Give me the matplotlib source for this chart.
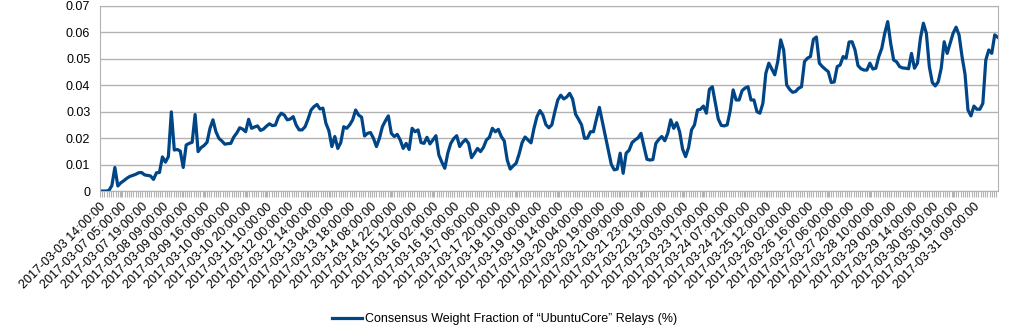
import numpy as np
import matplotlib
matplotlib.use("Agg")
import matplotlib.pyplot as plt
from matplotlib.ticker import MultipleLocator, FuncFormatter

plt.rcParams.update({"font.family": "Liberation Sans", "font.size": 9})

# hourly categories, one reading kept every 2 categories, label every 14
step = 2
label_every = 14

tick_labels = [
    "2017-03-03 14:00:00", "2017-03-07 05:00:00", "2017-03-07 19:00:00",
    "2017-03-08 09:00:00", "2017-03-09 00:00:00", "2017-03-09 16:00:00",
    "2017-03-10 06:00:00", "2017-03-10 20:00:00", "2017-03-11 10:00:00",
    "2017-03-12 00:00:00", "2017-03-12 14:00:00", "2017-03-13 04:00:00",
    "2017-03-13 18:00:00", "2017-03-14 08:00:00", "2017-03-14 22:00:00",
    "2017-03-15 12:00:00", "2017-03-16 02:00:00", "2017-03-16 16:00:00",
    "2017-03-17 06:00:00", "2017-03-17 20:00:00", "2017-03-18 10:00:00",
    "2017-03-19 00:00:00", "2017-03-19 14:00:00", "2017-03-20 04:00:00",
    "2017-03-20 19:00:00", "2017-03-21 09:00:00", "2017-03-21 23:00:00",
    "2017-03-22 13:00:00", "2017-03-23 03:00:00", "2017-03-23 17:00:00",
    "2017-03-24 07:00:00", "2017-03-24 21:00:00", "2017-03-25 12:00:00",
    "2017-03-26 02:00:00", "2017-03-26 16:00:00", "2017-03-27 06:00:00",
    "2017-03-27 20:00:00", "2017-03-28 10:00:00", "2017-03-29 00:00:00",
    "2017-03-29 14:00:00", "2017-03-30 05:00:00", "2017-03-30 19:00:00",
    "2017-03-31 09:00:00",
]

# consensus weight fraction, in thousandths
weight_fraction = [
    0.1, 0.1, 0.1, 0.3, 2.2, 9.0, 2.0, 3.2, 4.0, 4.9,
    5.6, 6.0, 6.4, 7.0, 7.1, 6.2, 6.0, 5.8, 4.5, 7.0,
    7.1, 13.0, 11.0, 13.1, 30.0, 15.6, 15.8, 15.2, 9.0, 17.5,
    18.1, 18.5, 29.0, 15.0, 16.5, 17.3, 18.5, 23.8, 27.0, 22.5,
    20.0, 19.0, 17.8, 18.0, 18.1, 20.5, 22.0, 24.0, 23.5, 22.5,
    27.2, 23.8, 24.3, 24.7, 23.0, 23.5, 24.6, 25.5, 24.8, 25.0,
    28.0, 29.5, 28.8, 27.0, 27.3, 28.2, 25.0, 23.2, 23.2, 24.4,
    27.3, 30.7, 32.0, 32.8, 31.1, 31.4, 25.7, 22.9, 16.9, 20.7,
    16.2, 18.4, 24.4, 23.8, 25.1, 27.0, 30.7, 28.8, 28.0, 20.9,
    21.9, 22.2, 20.0, 16.9, 20.0, 24.4, 26.6, 28.5, 21.9, 20.7,
    21.5, 19.4, 16.2, 18.1, 15.8, 23.8, 22.5, 23.2, 18.4, 18.1,
    20.4, 17.9, 19.4, 21.0, 13.7, 11.0, 8.7, 14.4, 18.1, 19.9,
    21.0, 16.9, 18.5, 19.6, 18.1, 12.7, 14.4, 16.2, 15.0, 16.6,
    19.4, 20.4, 23.8, 22.5, 23.4, 20.7, 19.0, 11.8, 8.4, 9.6,
    10.6, 14.1, 18.4, 20.5, 19.4, 18.3, 23.8, 28.2, 30.5, 28.8,
    25.2, 24.0, 25.1, 30.0, 34.5, 36.3, 34.9, 35.6, 37.0, 34.8,
    29.1, 27.2, 25.1, 20.0, 20.1, 22.5, 22.5, 27.3, 31.7, 26.2,
    20.9, 15.6, 10.2, 8.1, 8.4, 14.4, 6.8, 14.4, 15.5, 18.4,
    19.4, 20.2, 21.9, 16.9, 12.1, 11.8, 12.0, 18.1, 19.6, 20.7,
    19.1, 21.9, 27.0, 23.8, 25.9, 22.5, 15.9, 13.1, 16.5, 23.2,
    25.1, 30.7, 31.0, 32.2, 29.5, 38.5, 39.5, 33.5, 27.3, 24.9,
    24.7, 25.1, 30.4, 38.3, 34.5, 34.5, 38.0, 39.0, 39.5, 34.5,
    34.5, 30.1, 29.5, 33.2, 44.6, 48.4, 46.2, 44.0, 49.0, 57.2,
    53.4, 40.2, 38.5, 37.4, 37.7, 38.9, 39.5, 49.0, 50.3, 50.9,
    57.4, 58.3, 48.4, 47.1, 46.1, 45.2, 41.1, 41.3, 47.1, 47.7,
    50.9, 50.3, 56.4, 56.5, 53.4, 47.5, 46.3, 45.8, 45.8, 48.4,
    46.2, 46.5, 50.9, 54.0, 59.7, 64.1, 55.9, 49.6, 48.9, 47.1,
    46.6, 46.5, 46.3, 52.1, 46.5, 48.4, 57.8, 63.5, 59.7, 47.1,
    41.1, 39.8, 41.4, 46.5, 56.5, 52.1, 55.9, 59.7, 62.0, 59.1,
    50.9, 44.3, 30.7, 28.5, 32.2, 31.0, 31.0, 33.2, 49.6, 53.4,
    52.1, 59.1, 58.2,
]

y = np.array(weight_fraction) / 1000
x = np.arange(len(y)) * step

fig = plt.figure(figsize=(10.09, 3.32), dpi=100)
ax = fig.add_axes([100 / 1009, 1 - 191.3 / 332, 897.7 / 1009, 185.3 / 332])

ax.plot(x, y, color="#004586", lw=2.3, solid_joinstyle="round",
        label="Consensus Weight Fraction of \u201cUbuntuCore\u201d Relays (%)")

ax.set_xlim(0, 604)
ax.set_ylim(0, 0.07)
ax.yaxis.set_major_locator(MultipleLocator(0.01))
ax.yaxis.set_major_formatter(FuncFormatter(lambda v, p: f"{v:g}"))
ax.grid(axis="y", color="#b3b3b3", lw=1)
ax.set_axisbelow(True)

ax.set_xticks(np.arange(len(tick_labels)) * label_every)
ax.set_xticklabels(tick_labels, rotation=45, ha="right", va="top",
                   rotation_mode="anchor")
ax.xaxis.set_minor_locator(MultipleLocator(1.5))
ax.tick_params(axis="x", which="both", length=4, color="#b3b3b3", width=0.8, pad=3)
ax.tick_params(axis="y", length=0, pad=7)
for s in ax.spines.values():
    s.set_color("#b3b3b3")

fig.legend(loc="center", bbox_to_anchor=(0.5, 1 - 319 / 332), frameon=False,
           handlelength=2.4, handletextpad=0.2)

fig.savefig("out.png", dpi=100)
